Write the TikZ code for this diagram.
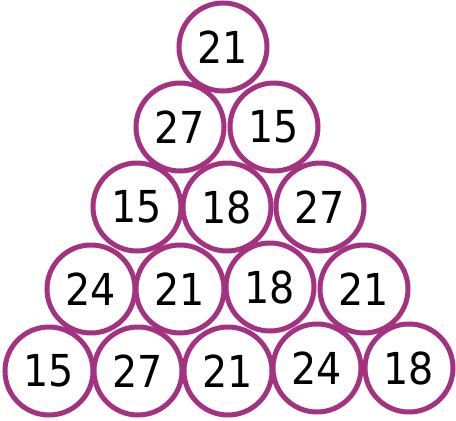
\documentclass[tikz,border=0pt]{standalone}
\usepackage{fontspec}
\newfontfamily\numfont{DejaVu Sans Condensed}
\definecolor{ringc}{RGB}{163,51,128}
\begin{document}
\begin{tikzpicture}[x=1pt,y=-1pt,
  ball/.style={circle,draw=ringc,line width=5pt,minimum size=88pt,inner sep=0pt,
    font=\numfont\fontsize{44}{44}\selectfont,text=black}]
\useasboundingbox (0,0) rectangle (456,421);
\node[ball] (a1) at (223,47) {21};
\node[ball] (b1) at (180,127) {27};
\node[ball] (b2) at (274,127) {15};
\node[ball] (c1) at (137,207) {15};
\node[ball] (c2) at (227,207) {18};
\node[ball] (c3) at (320,207) {27};
\node[ball] (d1) at (91,289) {24};
\node[ball] (d2) at (180,289) {21};
\node[ball] (d3) at (270,287) {18};
\node[ball] (d4) at (364,289) {21};
\node[ball] (e1) at (49,371) {15};
\node[ball] (e2) at (138,371) {27};
\node[ball] (e3) at (228,371) {21};
\node[ball] (e4) at (317,368) {24};
\node[ball] (e5) at (409,368) {18};
\end{tikzpicture}
\end{document}
